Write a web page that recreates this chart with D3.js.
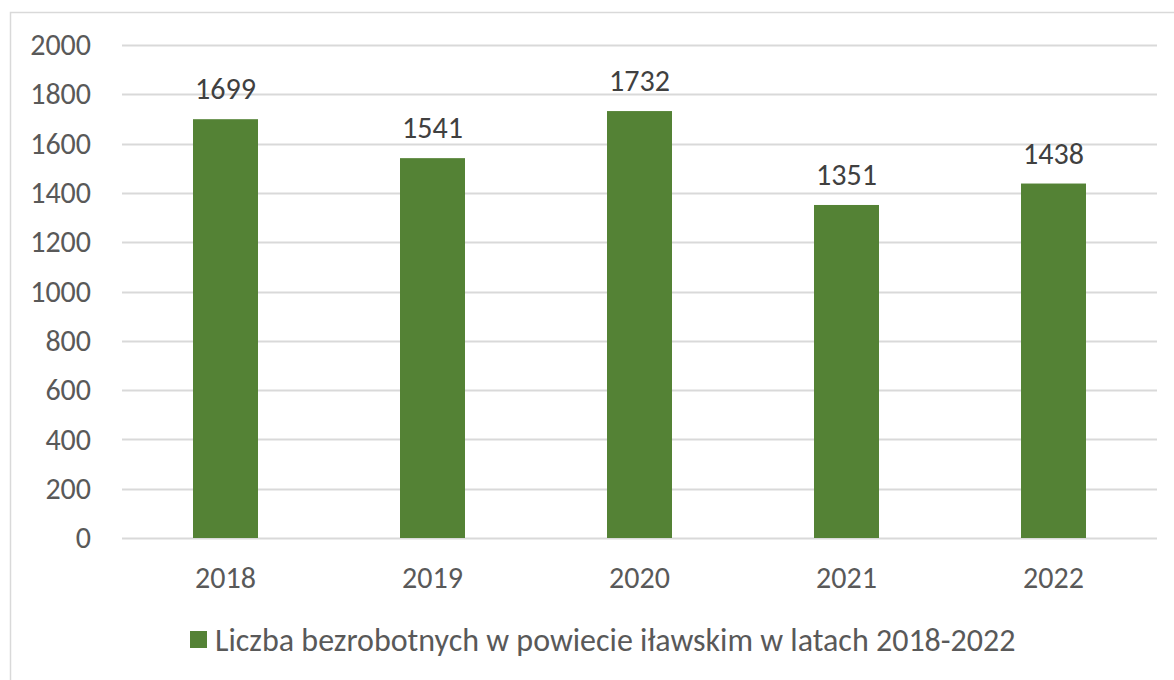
<!DOCTYPE html>
<html>
<head>
<meta charset="utf-8">
<script src="https://cdn.jsdelivr.net/npm/d3@7"></script>
<style>
  body { margin: 0; background: #fff; }
  text { font-family: Carlito, Lato, "Open Sans", sans-serif; }
</style>
</head>
<body>
<script>
// data
var years = ["2018", "2019", "2020", "2021", "2022"];
var values = [1699, 1541, 1732, 1351, 1438];
var yTicks = [0, 200, 400, 600, 800, 1000, 1200, 1400, 1600, 1800, 2000];
var seriesName = "Liczba bezrobotnych w powiecie iławskim w latach 2018-2022";

var W = 1174, H = 680;
var margin = { top: 45, right: 17, bottom: 142, left: 122 };
var w = W - margin.left - margin.right;
var h = H - margin.top - margin.bottom;
var fontSize = "30px";

var svg = d3.select("body").append("svg")
  .attr("width", W)
  .attr("height", H);

// chart border
svg.append("rect")
  .attr("x", 10.5).attr("y", 12.5)
  .attr("width", W + 20).attr("height", H + 20)
  .attr("fill", "none")
  .attr("stroke", "#d9d9d9")
  .attr("stroke-width", 1.5);

var g = svg.append("g")
  .attr("transform", "translate(" + margin.left + "," + margin.top + ")");

var x = d3.scaleBand()
  .domain(years)
  .range([0, w])
  .paddingInner(0.686)
  .paddingOuter(0.343);

var y = d3.scaleLinear()
  .domain([0, 2000])
  .range([h, 0]);

// gridlines
g.selectAll(".grid")
  .data(yTicks)
  .enter().append("line")
  .attr("class", "grid")
  .attr("x1", 0).attr("x2", w)
  .attr("y1", function(d) { return Math.round(y(d)) + 0.5; })
  .attr("y2", function(d) { return Math.round(y(d)) + 0.5; })
  .attr("stroke", "#d9d9d9")
  .attr("stroke-width", 2);

// y axis labels
var yAxis = d3.axisLeft(y).tickValues(yTicks).tickFormat(d3.format("d")).tickSize(0).tickPadding(31);
g.append("g")
  .attr("class", "y-axis")
  .call(yAxis)
  .call(function(s) { s.select(".domain").remove(); })
  .selectAll("text")
  .attr("fill", "#595959")
  .style("font-size", fontSize);

// x axis labels
var xAxis = d3.axisBottom(x).tickSize(0).tickPadding(29);
g.append("g")
  .attr("class", "x-axis")
  .attr("transform", "translate(0," + h + ")")
  .call(xAxis)
  .call(function(s) { s.select(".domain").remove(); })
  .selectAll("text")
  .attr("fill", "#595959")
  .style("font-size", fontSize);

// bars
g.selectAll(".bar")
  .data(values)
  .enter().append("rect")
  .attr("class", "bar")
  .attr("x", function(d, i) { return x(years[i]); })
  .attr("y", function(d) { return y(d); })
  .attr("width", x.bandwidth())
  .attr("height", function(d) { return h - y(d); })
  .attr("fill", "#548235");

// data labels
g.selectAll(".label")
  .data(values)
  .enter().append("text")
  .attr("class", "label")
  .attr("x", function(d, i) { return x(years[i]) + x.bandwidth() / 2; })
  .attr("y", function(d) { return y(d) - 20; })
  .attr("text-anchor", "middle")
  .attr("fill", "#404040")
  .style("font-size", fontSize)
  .text(function(d) { return d; });

// legend
var legend = svg.append("g")
  .attr("transform", "translate(190,640)");
legend.append("rect")
  .attr("x", 0).attr("y", -9)
  .attr("width", 17).attr("height", 17)
  .attr("fill", "#548235");
legend.append("text")
  .attr("x", 25).attr("y", 0)
  .attr("dy", "0.35em")
  .attr("fill", "#595959")
  .style("font-size", "32px")
  .text(seriesName);
</script>
</body>
</html>
